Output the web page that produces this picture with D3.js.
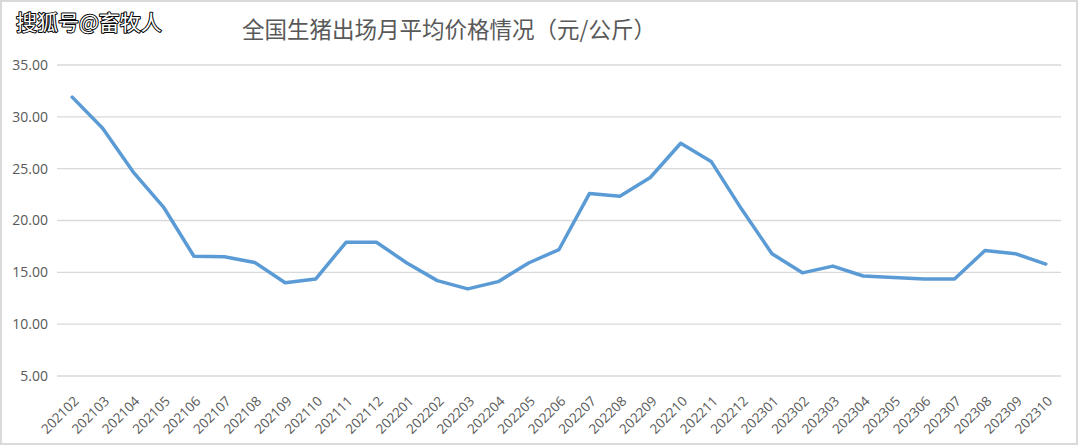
<!DOCTYPE html>
<html><head><meta charset="utf-8">
<script src="https://cdn.jsdelivr.net/npm/d3@7"></script>
<style>
html,body{margin:0;padding:0;background:#fff;}
svg{display:block;}
</style></head>
<body>
<script>
const categories = ["202102","202103","202104","202105","202106","202107","202108","202109","202110","202111","202112",
"202201","202202","202203","202204","202205","202206","202207","202208","202209","202210","202211","202212",
"202301","202302","202303","202304","202305","202306","202307","202308","202309","202310"];
const prices = [31.9,28.9,24.7,21.3,16.55,16.5,15.95,14.0,14.35,17.9,17.9,
15.9,14.2,13.4,14.1,15.9,17.2,22.6,22.35,24.15,27.45,25.7,21.1,
16.8,14.95,15.6,14.65,14.5,14.35,14.35,17.1,16.8,15.8];
const yTicks = [5,10,15,20,25,30,35];
const title = "全国生猪出场月平均价格情况（元/公斤）";
const watermark = "搜狐号@畜牧人";

const W = 1080, H = 447;
const svg = d3.select("body").append("svg").attr("width", W).attr("height", H);

// frame
svg.append("rect").attr("x",1).attr("y",1).attr("width",W-4).attr("height",H-4)
  .attr("fill","#fff").attr("stroke","#d9d9d9").attr("stroke-width",2);

const x = d3.scalePoint().domain(categories).range([57,1061]).padding(0.5);
const y = d3.scaleLinear().domain([5,35]).range([376,65]);

// gridlines
svg.append("g").selectAll("line").data(yTicks).join("line")
  .attr("x1",57).attr("x2",1061)
  .attr("y1",d=>y(d)).attr("y2",d=>y(d))
  .attr("stroke","#d9d9d9").attr("stroke-width",1.3);

// y labels
const yAxis = d3.axisLeft(y).tickValues(yTicks).tickFormat(d3.format(".2f")).tickSize(0).tickPadding(9);
const ga = svg.append("g").attr("transform","translate(57,0)").call(yAxis);
ga.select(".domain").remove();
ga.selectAll("text").attr("font-family","'Open Sans','Liberation Sans',sans-serif")
  .attr("font-size",14).attr("fill","#595959");

// x labels
const xAxis = d3.axisBottom(x).tickSize(0).tickPadding(0);
const gx = svg.append("g").attr("transform","translate(0,376)").call(xAxis);
gx.select(".domain").remove();
gx.selectAll("text")
  .attr("font-family","'Open Sans','Liberation Sans',sans-serif")
  .attr("font-size",13.5).attr("fill","#595959")
  .attr("text-anchor","end")
  .attr("dy",null).attr("y",0)
  .attr("transform","translate(7,26) rotate(-45)");

// line
svg.append("path").datum(prices)
  .attr("fill","none").attr("stroke","#5b9bd5").attr("stroke-width",3.5)
  .attr("stroke-linejoin","round").attr("stroke-linecap","round")
  .attr("d", d3.line().x((d,i)=>x(categories[i])).y(d=>y(d)));

// title
svg.append("text").attr("x",449).attr("y",38).attr("text-anchor","middle")
  .attr("font-family","'Noto Sans CJK SC',sans-serif").attr("font-size",22.5)
  .attr("fill","#595959").text(title);

// watermark
svg.append("text").attr("x",16).attr("y",30)
  .attr("font-family","'Noto Sans CJK SC',sans-serif").attr("font-size",21)
  .attr("fill","#fff").attr("stroke","#000").attr("stroke-width",2)
  .attr("paint-order","stroke").attr("stroke-linejoin","round").text(watermark);
</script>
</body></html>
